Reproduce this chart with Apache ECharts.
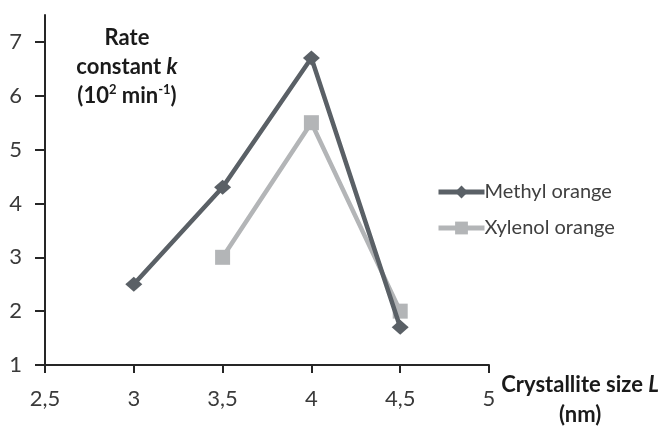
<!DOCTYPE html>
<html><head><meta charset="utf-8">
<script src="https://cdn.jsdelivr.net/npm/echarts@6/dist/echarts.min.js"></script>
<style>html,body{margin:0;padding:0;background:#fff}#c{width:662px;height:426px}</style>
</head><body><div id="c"></div>
<script>
const crystalliteSize = [3, 3.5, 4, 4.5];
const methylOrange = [2.5, 4.3, 6.7, 1.7];
const xylenolSize = [3.5, 4, 4.5];
const xylenolOrange = [3.0, 5.5, 2.0];
const yTicks = [1, 2, 3, 4, 5, 6, 7];
const xTicks = [2.5, 3, 3.5, 4, 4.5, 5];

const FONT = 'Lato, "Open Sans", sans-serif';
const chart = echarts.init(document.getElementById('c'));
chart.setOption({
  animation: false,
  backgroundColor: '#fff',
  textStyle: { fontFamily: FONT },
  title: {
    text: '{b|Rate}\n{b|constant }{i|k}\n{b|(10}{s|2}{b| min}{s|-1}{b|)}',
    left: 122, top: 18, textAlign: 'center',
    textStyle: {
      rich: {
        b: { fontFamily: FONT, fontWeight: 'bold', fontSize: 22, color: '#1a1a1a', lineHeight: 29 },
        i: { fontFamily: FONT, fontWeight: 'bold', fontStyle: 'italic', fontSize: 22, color: '#1a1a1a', lineHeight: 29 },
        s: { fontFamily: FONT, fontWeight: 'bold', fontSize: 13, color: '#1a1a1a', lineHeight: 29, verticalAlign: 'top', padding: [2, 0, 0, 0] }
      }
    }
  },
  legend: {
    orient: 'vertical', left: 431, top: 177, itemGap: 16,
    itemWidth: 46, itemHeight: 16,
    lineStyle: { width: 5 },
    textStyle: { fontFamily: FONT, fontSize: 20, color: '#404040', padding: [0, 0, 0, -5] },
    data: ['Methyl orange', 'Xylenol orange']
  },
  grid: { left: 45, right: 171, top: 15, bottom: 61, containLabel: false },
  xAxis: {
    type: 'value', min: 2.5, max: 5, interval: 0.5,
    name: '{b|Crystallite size }{i|L}\n{b|(nm)}',
    nameLocation: 'end', nameGap: 0,
    nameTextStyle: {
      align: 'left', verticalAlign: 'top', padding: [5, 0, 0, 5],
      rich: {
        b: { fontFamily: FONT, fontWeight: 'bold', fontSize: 22, color: '#1a1a1a', lineHeight: 30, align: 'center' },
        i: { fontFamily: FONT, fontWeight: 'bold', fontStyle: 'italic', fontSize: 22, color: '#1a1a1a', lineHeight: 30 }
      }
    },
    axisLine: { lineStyle: { color: '#262626', width: 2 } },
    axisTick: { show: true, inside: false, length: 8, lineStyle: { color: '#262626', width: 2 }, customValues: xTicks },
    axisLabel: { customValues: xTicks, margin: 23, fontFamily: FONT, fontSize: 22, color: '#3a3a3a',
      formatter: v => String(v).replace('.', ',') },
    splitLine: { show: false }
  },
  yAxis: {
    type: 'value', min: 1, max: 7.5,
    axisLine: { show: true, lineStyle: { color: '#262626', width: 2 } },
    axisTick: { show: true, length: 10, lineStyle: { color: '#262626', width: 2 }, customValues: yTicks },
    axisLabel: { customValues: yTicks, margin: 23, fontFamily: FONT, fontSize: 22, color: '#3a3a3a' },
    splitLine: { show: false }
  },
  series: [
    {
      name: 'Methyl orange', type: 'line',
      data: crystalliteSize.map((x, i) => [x, methylOrange[i]]),
      symbol: 'diamond', symbolSize: [17, 15],
      lineStyle: { color: '#5a6066', width: 4.5 },
      itemStyle: { color: '#5a6066' }, z: 3
    },
    {
      name: 'Xylenol orange', type: 'line',
      data: xylenolSize.map((x, i) => [x, xylenolOrange[i]]),
      symbol: 'rect', symbolSize: 15,
      lineStyle: { color: '#b3b5b7', width: 4.5 },
      itemStyle: { color: '#b3b5b7' }, z: 2
    }
  ]
});
</script></body></html>
